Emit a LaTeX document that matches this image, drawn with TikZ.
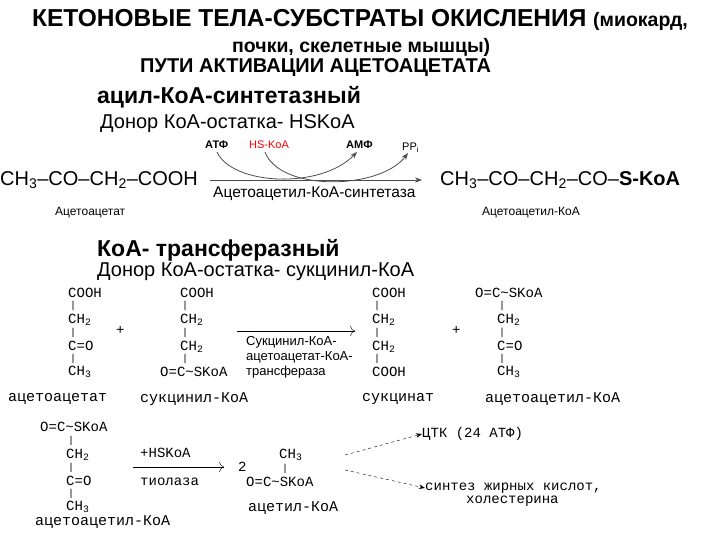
\documentclass[tikz,border=0pt]{standalone}
\usepackage{fontspec}
\setmainfont{Liberation Sans}
\newfontfamily\monof{Liberation Mono}
\usetikzlibrary{arrows.meta}
\tikzset{
 t/.style={anchor=west,inner sep=0pt},
 mono/.style={t,font=\monof\fontsize{14}{14}\selectfont},
 bar/.style={t,font=\monof\fontsize{10}{10}\selectfont},
 lab/.style={t,font=\monof\fontsize{15}{15}\selectfont},
 big/.style={t,font=\fontsize{20}{20}\selectfont},
 small/.style={t,font=\fontsize{12}{12}\selectfont},
 hd/.style={t,font=\bfseries\fontsize{23}{23}\selectfont},
 sub/.style={t,font=\fontsize{20}{20}\selectfont},
 arr/.style={-{Stealth[length=7pt]},thick},
 oarr/.style={-{To[length=5pt]},thin},
 darr/.style={dashed,-{Stealth[length=6pt]}}
}
\begin{document}
\begin{tikzpicture}[x=1pt,y=-1pt]
\useasboundingbox (0,0) rectangle (720,540);
\node[t,font=\bfseries\fontsize{24.5}{24.5}\selectfont] (ti1) at (32,20) {КЕТОНОВЫЕ ТЕЛА-СУБСТРАТЫ ОКИСЛЕНИЯ \fontsize{19.5}{19.5}\selectfont(миокард,};
\node[t,font=\bfseries\fontsize{19.5}{19.5}\selectfont] (ti2) at (232,47) {почки, скелетные мышцы)};
\node[t,font=\bfseries\fontsize{20}{20}\selectfont] (ti3) at (140,68) {ПУТИ АКТИВАЦИИ АЦЕТОАЦЕТАТА};
\node[hd] (h1) at (97,97) {ацил-КоА-синтетазный};
\node[sub] (s1) at (100,124) {Донор КоА-остатка- HSKoA};
% reaction 1
\node[big] (l1) at (0,180) {CH\textsubscript{3}–CO–CH\textsubscript{2}–COOH};
\node[small] (l1n) at (55,213) {Ацетоацетат};
\node[big] (r1) at (440,180) {CH\textsubscript{3}–CO–CH\textsubscript{2}–CO–\textbf{S-KoA}};
\node[small] (r1n) at (482,213) {Ацетоацетил-КоА};
\coordinate (a1s) at (210,180); \coordinate (a1e) at (422,180);
\draw[arr,gray!60!black] (a1s) -- (a1e);
\node[t,font=\fontsize{15.5}{15.5}\selectfont] (enz1) at (213,194) {Ацетоацетил-КоА-синтетаза};
\node[t,font=\bfseries\fontsize{11}{11}\selectfont] (atf) at (205,145) {АТФ};
\node[t,font=\fontsize{11}{11}\selectfont,red] (hs) at (249,145) {HS-KoA};
\node[t,font=\bfseries\fontsize{11}{11}\selectfont] (amf) at (346,145) {АМФ};
\node[t,font=\fontsize{11}{11}\selectfont] (ppi) at (402,148) {PP\textsubscript{i}};
\draw[arr,gray!60!black] (217,152) .. controls (232,185) and (320,190) .. (357,152);
\draw[arr,gray!60!black] (265,152) .. controls (280,192) and (380,190) .. (408,153);
% section 2
\node[hd] (h2) at (97,250) {КоА- трансферазный};
\node[sub] (s2) at (97,272) {Донор КоА-остатка- сукцинил-КоА};
\node[mono] (c1a) at (68,293) {COOH};
\node[bar] (c1b) at (70,306) {|};
\node[mono] (c1c) at (68,320) {CH\textsubscript{2}};
\node[bar] (c1d) at (70,333) {|};
\node[mono] (c1e) at (68,346) {C=O};
\node[bar] (c1f) at (70,359) {|};
\node[mono] (c1g) at (68,372) {CH\textsubscript{3}};
\node[mono] (p1) at (116,330) {+};
\node[mono] (c2a) at (180,293) {COOH};
\node[bar] (c2b) at (182,306) {|};
\node[mono] (c2c) at (180,320) {CH\textsubscript{2}};
\node[bar] (c2d) at (182,333) {|};
\node[mono] (c2e) at (180,347) {CH\textsubscript{2}};
\node[bar] (c2f) at (182,359) {|};
\node[mono] (c2g) at (160,372) {O=C\char"7E SKoA};
\coordinate (a2s) at (237,331); \coordinate (a2e) at (355,331);
\draw[oarr] (a2s) -- (a2e);
\node[t,font=\fontsize{13}{13}\selectfont] (e2a) at (246,342) {Сукцинил-КоА-};
\node[t,font=\fontsize{13}{13}\selectfont] (e2b) at (246,357) {ацетоацетат-КоА-};
\node[t,font=\fontsize{13}{13}\selectfont] (e2c) at (246,372) {трансфераза};
\node[mono] (c3a) at (372,293) {COOH};
\node[bar] (c3b) at (374,306) {|};
\node[mono] (c3c) at (372,320) {CH\textsubscript{2}};
\node[bar] (c3d) at (374,333) {|};
\node[mono] (c3e) at (372,347) {CH\textsubscript{2}};
\node[bar] (c3f) at (374,359) {|};
\node[mono] (c3g) at (372,372) {COOH};
\node[mono] (p2) at (452,330) {+};
\node[mono] (c4a) at (475,293) {O=C\char"7E SKoA};
\node[bar] (c4b) at (499,306) {|};
\node[mono] (c4c) at (497,320) {CH\textsubscript{2}};
\node[bar] (c4d) at (499,333) {|};
\node[mono] (c4e) at (497,346) {C=O};
\node[bar] (c4f) at (499,359) {|};
\node[mono] (c4g) at (497,372) {CH\textsubscript{3}};
\node[lab] (n1) at (8,399) {ацетоацетат};
\node[lab] (n2) at (140,399) {сукцинил-КоА};
\node[lab] (n3) at (362,399) {сукцинат};
\node[lab] (n4) at (485,399) {ацетоацетил-КоА};
% section 3
\node[mono] (d1a) at (40,427) {O=C\char"7E SKoA};
\node[bar] (d1b) at (68,441) {|};
\node[mono] (d1c) at (66,455) {CH\textsubscript{2}};
\node[bar] (d1d) at (68,468) {|};
\node[mono] (d1e) at (66,481) {C=O};
\node[bar] (d1f) at (68,494) {|};
\node[mono] (d1g) at (66,507) {CH\textsubscript{3}};
\node[lab] (d1n) at (35,522) {ацетоацетил-КоА};
\node[mono] (hsk) at (140,453) {+HSKoA};
\coordinate (a3s) at (133,467); \coordinate (a3e) at (224,467);
\draw[oarr] (a3s) -- (a3e);
\node[mono] (tio) at (140,482) {тиолаза};
\node[mono] (two) at (238,467) {2};
\node[mono] (d2a) at (279,455) {CH\textsubscript{3}};
\node[bar] (d2b) at (282,469) {|};
\node[mono] (d2c) at (246,482) {O=C\char"7E SKoA};
\node[lab] (d2n) at (248,508) {ацетил-КоА};
\node[mono] (ctk) at (422,434) {ЦТК (24 АТФ)};
\node[mono] (syn) at (425,488) {синтез жирных кислот,};
\node[mono] (chol) at (466,501) {холестерина};
\coordinate (ds1) at (345,455); \coordinate (ds2) at (345,470);
\draw[darr] (ds1) -- (ctk.west);
\draw[darr] (ds2) -- (syn.west);
\end{tikzpicture}
\end{document}
